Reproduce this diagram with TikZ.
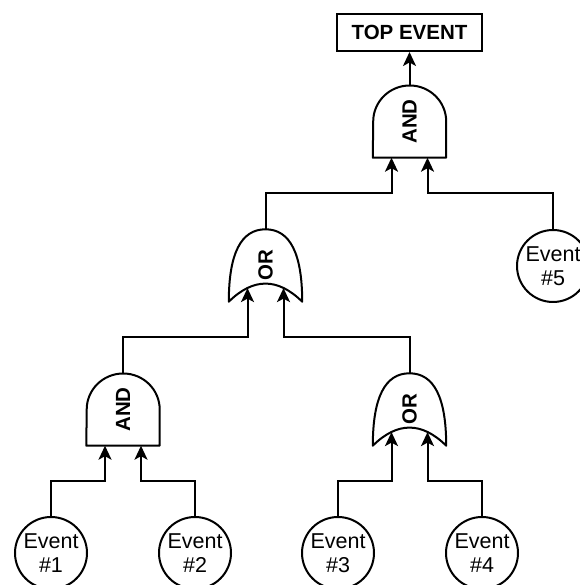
\documentclass[tikz,border=0pt]{standalone}
\usepackage{fontspec}
\setmainfont{Liberation Sans}
\usetikzlibrary{arrows.meta, calc}
\tikzset{
    x=1pt, y=1pt, % one unit is one pixel of the drawing
    every node/.style={font=\fontsize{21.5}{24}\selectfont}, % plain text of the events
    event/.style={draw, circle, line width=2pt, minimum size=72pt, inner sep=0pt, align=center}, % basic events
    gate/.style={minimum width=73pt, minimum height=72pt, inner sep=0pt, font=\fontsize{20.5}{24}\selectfont\bfseries}, % gate box, outline is drawn below
    topbox/.style={draw, line width=2pt, minimum width=145pt, minimum height=37pt, inner sep=0pt, font=\fontsize{20.5}{24}\selectfont\bfseries},
    outline/.style={line width=2pt, line join=round},
    link/.style={line width=2pt, -{Stealth[length=14pt, width=13pt, inset=3.5pt]}}, % filled arrow heads
}
\begin{document}
\begin{tikzpicture}
\useasboundingbox (0,0) rectangle (579,585);
\node[topbox] (top) at (409.5,552.5) {TOP EVENT};
\node[gate] (and1) at (409.5,463.5) {\rotatebox{90}{AND}};
\node[gate] (or1) at (265.5,319.5) {\rotatebox{90}{OR}};
\node[event] (e5) at (553,319) {Event\\\#5};
\node[gate] (and2) at (123,175.5) {\rotatebox{90}{AND}};
\node[gate] (or2) at (409.5,175.5) {\rotatebox{90}{OR}};
\node[event] (e1) at (51,32) {Event\\\#1};
\node[event] (e2) at (195,32) {Event\\\#2};
\node[event] (e3) at (338,32) {Event\\\#3};
\node[event] (e4) at (482,32) {Event\\\#4};

% gate shapes
\foreach \g in {and1,and2}
    \draw[outline] (\g.south west) -- (\g.south east) -- (\g.east)
        arc[start angle=0, end angle=180, x radius=36.5pt, y radius=36pt] -- cycle;
\foreach \g in {or1,or2}
    \draw[outline] (\g.south west)
        .. controls ($(\g.south west)!2/3!(\g.north west)$) and ($(\g.north)!2/3!(\g.north west)$) .. (\g.north)
        .. controls ($(\g.north)!2/3!(\g.north east)$) and ($(\g.south east)!2/3!(\g.north east)$) .. (\g.south east)
        .. controls ($(\g.south east)!2/3!(\g.center)$) and ($(\g.south west)!2/3!(\g.center)$) .. (\g.south west) -- cycle;

% inputs and bends under each gate
\foreach \g/\d in {and1/0,and2/0,or1/13.6,or2/13.6} {
    \coordinate (\g-in1) at ($(\g.south)+(-18,\d)$);
    \coordinate (\g-in2) at ($(\g.south)+(18,\d)$);
    \coordinate (\g-k1) at ($(\g.south)+(-18,-35)$);
    \coordinate (\g-k2) at ($(\g.south)+(18,-35)$);
}

\draw[link] (and1.north) -- (top.south);
\draw[link] (or1.north) |- (and1-k1) -- (and1-in1);
\draw[link] (e5.north) |- (and1-k2) -- (and1-in2);
\draw[link] (and2.north) |- (or1-k1) -- (or1-in1);
\draw[link] (or2.north) |- (or1-k2) -- (or1-in2);
\draw[link] (e1.north) |- (and2-k1) -- (and2-in1);
\draw[link] (e2.north) |- (and2-k2) -- (and2-in2);
\draw[link] (e3.north) |- (or2-k1) -- (or2-in1);
\draw[link] (e4.north) |- (or2-k2) -- (or2-in2);
\end{tikzpicture}
\end{document}
